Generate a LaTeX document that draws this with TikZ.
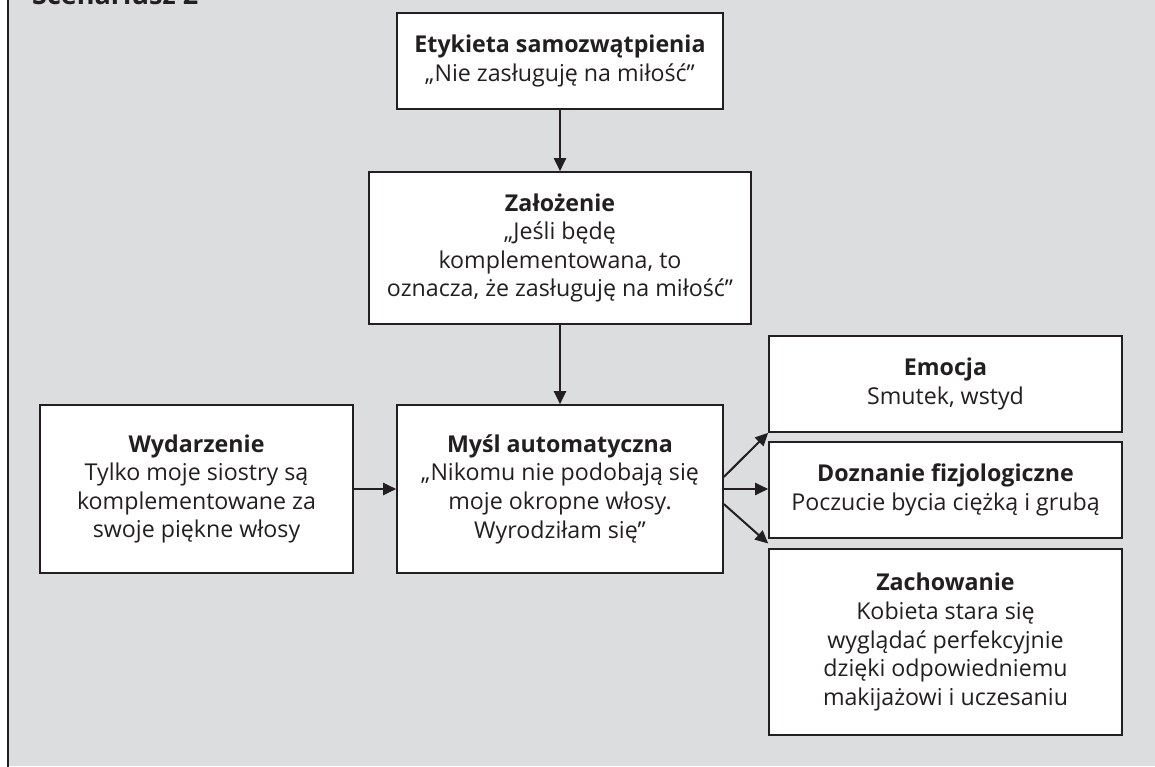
\documentclass[tikz,border=0pt]{standalone}
\usepackage{fontspec}
\setmainfont{Open Sans}
\usetikzlibrary{arrows.meta,calc}
\definecolor{panelgray}{HTML}{DCDDDF}
\definecolor{ink}{HTML}{231F20}
\begin{document}
\begin{tikzpicture}[x=1pt,y=-1pt,
  card/.style={draw=ink, line width=1.6pt, fill=white, inner sep=0pt,
    align=center, text=ink, font=\fontsize{23.2}{28.6}\selectfont},
  flow/.style={draw=ink, line width=2pt,
    -{Triangle[length=13pt,width=12pt]}}]
  % page and grey panel
  \useasboundingbox (0,0) rectangle (1155,767);
  \fill[white] (0,0) rectangle (1155,767);
  \fill[panelgray] (9,0) rectangle (1155,766);
  \draw[ink, line width=2.4pt] (8,0) -- (8,767);
  % scenario heading, cut at the top edge
  \node[anchor=base west, inner sep=0pt, text=ink,
    font=\fontsize{27}{32}\selectfont\bfseries] (title) at (32,5) {Scenariusz 2};

  % boxes
  \node[card, minimum width=326pt, minimum height=96pt] (etyk) at (560,61)
    {{\bfseries Etykieta samozwątpienia}\\„Nie zasługuję na miłość”};
  \node[card, minimum width=382pt, minimum height=152pt] (zal) at (560,248)
    {{\bfseries Założenie}\\„Jeśli będę\\komplementowana, to\\oznacza, że zasługuję na miłość”};
  \node[card, minimum width=326pt, minimum height=168pt] (mysl) at (560,489)
    {{\bfseries Myśl automatyczna}\\„Nikomu nie podobają się\\moje okropne włosy.\\Wyrodziłam się”};
  \node[card, minimum width=313pt, minimum height=168pt] (wyd) at (196.5,489)
    {{\bfseries Wydarzenie}\\Tylko moje siostry są\\komplementowane za\\swoje piękne włosy};
  \node[card, minimum width=353pt, minimum height=96pt] (emo) at (945.5,384)
    {{\bfseries Emocja}\\Smutek, wstyd};
  \node[card, minimum width=353pt, minimum height=96pt] (dozn) at (945.5,490)
    {{\bfseries Doznanie fizjologiczne}\\Poczucie bycia ciężką i grubą};
  \node[card, minimum width=353pt, minimum height=186pt] (zach) at (945.5,642)
    {{\bfseries Zachowanie}\\Kobieta stara się\\wyglądać perfekcyjnie\\dzięki odpowiedniemu\\makijażowi i uczesaniu};

  % connectors
  \coordinate (fanUp) at ($(mysl.east)+(0,-12)$);
  \coordinate (fanDown) at ($(mysl.east)+(0,15)$);
  \coordinate (gapLow) at ($(dozn.south west)!0.5!(zach.north west)$);
  \draw[flow] (etyk.south) -- (zal.north);
  \draw[flow] (zal.south) -- (mysl.north);
  \draw[flow] (wyd.east) -- (mysl.west);
  \draw[flow] (mysl.east) -- (dozn.west |- mysl.east);
  \draw[flow] (fanUp) -- (emo.south west);
  \draw[flow] (fanDown) -- (gapLow);
\end{tikzpicture}
\end{document}
